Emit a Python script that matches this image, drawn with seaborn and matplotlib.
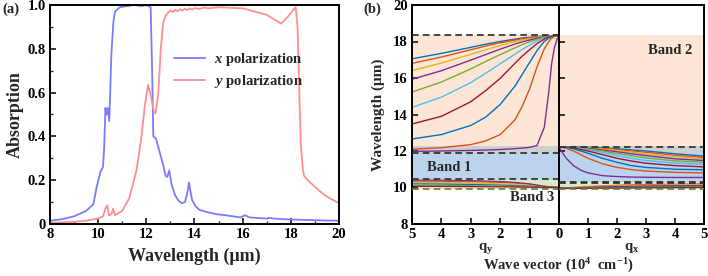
import numpy as np
import pandas as pd
import matplotlib
matplotlib.use("Agg")
import matplotlib.pyplot as plt
import seaborn as sns

sns.set_theme(style="ticks")
plt.rcParams["font.family"] = ["Liberation Serif", "DejaVu Serif"]
plt.rcParams["font.weight"] = "bold"
plt.rcParams["axes.labelweight"] = "bold"
plt.rcParams["mathtext.fontset"] = "custom"
plt.rcParams["mathtext.it"] = "Liberation Serif:italic:bold"
plt.rcParams["mathtext.rm"] = "Liberation Serif:bold"
plt.rcParams["mathtext.bf"] = "Liberation Serif:bold"
plt.rcParams["mathtext.default"] = "regular"

# ---------------- panel (a) data ----------------
wl_x = [8.0, 8.5, 9.0, 9.5, 9.8, 9.94, 10.1, 10.2, 10.25, 10.3, 10.35, 10.4, 10.46, 10.5, 10.55,
        10.63, 10.7, 10.9, 11.2, 11.5, 11.8, 12.0, 12.1, 12.18, 12.24, 12.29, 12.4, 12.5, 12.6,
        12.7, 12.8, 12.87, 12.95, 13.05, 13.2, 13.35, 13.47, 13.6, 13.7, 13.77, 13.83, 13.9,
        14.05, 14.2, 14.5, 14.9, 15.3, 15.6, 15.9, 16.1, 16.3, 16.7, 17.0, 17.1, 17.3, 17.7,
        18.2, 18.8, 19.4, 20.0]
abs_x = [0.015, 0.022, 0.035, 0.06, 0.09, 0.17, 0.24, 0.26, 0.35, 0.53, 0.5, 0.53, 0.47, 0.6, 0.78,
         0.92, 0.97, 0.99, 0.995, 1.0, 0.995, 1.0, 0.995, 0.99, 0.7, 0.4, 0.39, 0.35, 0.31,
         0.27, 0.22, 0.215, 0.245, 0.18, 0.13, 0.105, 0.095, 0.1, 0.14, 0.19, 0.15, 0.11,
         0.08, 0.065, 0.055, 0.045, 0.04, 0.035, 0.03, 0.04, 0.03, 0.027, 0.025, 0.028, 0.025, 0.022,
         0.02, 0.018, 0.016, 0.015]

wl_y = [8.0, 9.0, 9.5, 10.0, 10.2, 10.3, 10.38, 10.45, 10.55, 10.62, 10.7, 11.0, 11.3, 11.6,
        11.8, 11.95, 12.07, 12.2, 12.3, 12.38, 12.5, 12.6, 12.7, 12.8, 12.9, 13.0, 13.1, 13.2,
        13.3, 13.4, 13.5, 13.6, 13.7, 13.8, 13.9, 14.0, 14.2, 14.4, 14.6, 15.0, 15.5, 16.0,
        16.5, 17.0, 17.3, 17.6, 17.9, 18.2, 18.28, 18.35, 18.42, 18.5, 18.55, 18.7, 18.9, 19.2,
        19.5, 20.0]
abs_y = [0.005, 0.01, 0.015, 0.025, 0.035, 0.07, 0.085, 0.04, 0.045, 0.07, 0.04, 0.06, 0.12, 0.25,
         0.4, 0.55, 0.635, 0.58, 0.52, 0.505, 0.6, 0.8, 0.92, 0.95, 0.965, 0.975, 0.968, 0.978,
         0.972, 0.98, 0.975, 0.983, 0.977, 0.985, 0.979, 0.986, 0.982, 0.988, 0.985, 0.99, 0.987, 0.985,
         0.97, 0.955, 0.935, 0.915, 0.95, 0.99, 0.9, 0.6, 0.35, 0.25, 0.22, 0.2, 0.18, 0.15,
         0.125, 0.095]
pol_labels = ["$\\mathit{x}$ polarization", "$\\mathit{y}$ polarization"]
pol_colors = ["#7b7bff", "#ff8f8f"]

# ---------------- panel (b) data ----------------
mode_names = ["m1", "m2", "m3", "m4", "m5", "m6", "m7", "m8", "m9", "m10"]
mode_colors = ["#0072BD", "#D95319", "#EDB120", "#7E2F8E", "#77AC30", "#4DBEEE",
               "#A2142F", "#0072BD", "#D95319", "#7E2F8E"]

qy = [5, 4, 3, 2.5, 2, 1.5, 1.25, 1.0, 0.75, 0.5, 0.35, 0.25, 0.15, 0.05, 0]
band2_qy = [
    [17.05, 17.35, 17.68, 17.85, 18.0, 18.13, 18.19, 18.23, 18.27, 18.3, 18.31, 18.32, 18.33, 18.33, 18.33],
    [16.8, 17.15, 17.55, 17.75, 17.93, 18.08, 18.15, 18.2, 18.25, 18.29, 18.31, 18.32, 18.33, 18.33, 18.33],
    [16.4, 16.82, 17.3, 17.55, 17.78, 17.99, 18.08, 18.15, 18.22, 18.28, 18.3, 18.32, 18.33, 18.33, 18.33],
    [15.93, 16.4, 16.98, 17.28, 17.58, 17.86, 17.98, 18.08, 18.18, 18.26, 18.29, 18.31, 18.33, 18.33, 18.33],
    [15.23, 15.78, 16.5, 16.9, 17.28, 17.65, 17.83, 17.98, 18.12, 18.23, 18.28, 18.3, 18.32, 18.33, 18.33],
    [14.39, 14.95, 15.75, 16.25, 16.78, 17.3, 17.57, 17.8, 18.02, 18.2, 18.26, 18.3, 18.32, 18.33, 18.33],
    [13.48, 13.9, 14.7, 15.3, 15.98, 16.8, 17.2, 17.55, 17.88, 18.13, 18.24, 18.28, 18.31, 18.33, 18.33],
    [12.66, 12.9, 13.4, 13.85, 14.55, 15.55, 16.2, 16.85, 17.5, 18.0, 18.18, 18.26, 18.3, 18.33, 18.33],
    [12.1, 12.18, 12.35, 12.55, 12.9, 13.7, 14.45, 15.4, 16.6, 17.6, 18.0, 18.18, 18.28, 18.33, 18.33],
    [11.98, 12.0, 12.03, 12.05, 12.08, 12.13, 12.16, 12.2, 12.3, 13.3, 15.2, 16.8, 17.7, 18.2, 18.33],
]

qx = [0, 0.1, 0.25, 0.5, 0.75, 1, 1.5, 2, 2.5, 3, 4, 5]
band1_qx = [
    [12.22, 12.22, 12.22, 12.22, 12.21, 12.2, 12.17, 12.12, 12.06, 12.0, 11.85, 11.72],
    [12.22, 12.22, 12.22, 12.21, 12.2, 12.18, 12.14, 12.08, 12.0, 11.93, 11.77, 11.65],
    [12.22, 12.22, 12.22, 12.21, 12.19, 12.17, 12.11, 12.03, 11.94, 11.85, 11.68, 11.57],
    [12.22, 12.22, 12.21, 12.2, 12.18, 12.14, 12.06, 11.96, 11.85, 11.75, 11.57, 11.48],
    [12.22, 12.22, 12.21, 12.19, 12.16, 12.11, 12.0, 11.87, 11.74, 11.62, 11.46, 11.38],
    [12.22, 12.22, 12.21, 12.18, 12.13, 12.07, 11.92, 11.75, 11.6, 11.48, 11.34, 11.27],
    [12.22, 12.22, 12.21, 12.16, 12.08, 12.0, 11.8, 11.6, 11.45, 11.33, 11.2, 11.13],
    [12.22, 12.21, 12.2, 12.12, 12.0, 11.88, 11.6, 11.38, 11.2, 11.1, 11.0, 10.97],
    [12.22, 12.2, 12.15, 12.0, 11.8, 11.6, 11.3, 11.1, 10.98, 10.9, 10.83, 10.8],
    [12.22, 11.95, 11.6, 11.2, 10.95, 10.8, 10.65, 10.6, 10.57, 10.56, 10.55, 10.55],
]

b3_names = ["b1", "b2", "b3", "b4", "b5", "b6"]
b3_colors = ["#D95319", "#EDB120", "#7E2F8E", "#0072BD", "#77AC30", "#A2142F"]
qy3 = [5, 4, 3, 2, 1.5, 1, 0.5, 0.25, 0]
band3_qy = [
    [10.35, 10.34, 10.32, 10.28, 10.24, 10.18, 10.08, 10.03, 10.0],
    [10.28, 10.27, 10.25, 10.2, 10.16, 10.12, 10.05, 10.02, 10.0],
    [10.4, 10.4, 10.38, 10.33, 10.28, 10.2, 10.06, 10.02, 10.0],
    [10.2, 10.19, 10.17, 10.13, 10.1, 10.07, 10.03, 10.01, 10.0],
    [10.12, 10.11, 10.1, 10.08, 10.06, 10.04, 10.02, 10.0, 10.0],
    [10.06, 10.06, 10.05, 10.04, 10.03, 10.02, 10.01, 10.0, 10.0],
]
qx3 = [0, 0.5, 1, 2, 3, 4, 5]
band3_qx = [
    [9.95, 10.0, 10.05, 10.12, 10.16, 10.18, 10.2],
    [9.95, 9.99, 10.03, 10.08, 10.12, 10.14, 10.15],
    [9.95, 9.98, 10.01, 10.05, 10.08, 10.1, 10.11],
    [9.95, 9.97, 9.99, 10.02, 10.04, 10.06, 10.07],
    [9.95, 9.96, 9.97, 9.99, 10.01, 10.02, 10.03],
    [9.95, 9.95, 9.96, 9.97, 9.98, 9.99, 10.0],
]

band2_span = [12.25, 18.33]
gray_span = [11.9, 12.25]
band1_left = [10.47, 11.9]
band1_right = [10.32, 11.9]
band3_left = [9.9, 10.47]
band3_right = [9.92, 10.32]
dash_left = [18.33, 11.9, 10.47]
dash_right = [12.23, 10.32, 10.22]
dash_bottom_left = 9.9
dash_bottom_right = 9.93

# ---------------- figure ----------------
fig = plt.figure(figsize=(7.08, 2.76), dpi=100)
H = 276.0
W = 708.0
bot = (H - 224) / H
hgt = (224 - 5) / H
axA = fig.add_axes([50 / W, bot, 289 / W, hgt])
axL = fig.add_axes([412 / W, bot, 147 / W, hgt])
axR = fig.add_axes([559 / W, bot, 145 / W, hgt])

tick_fs = 10.5

# ---- panel (a)
df_a = pd.concat([
    pd.DataFrame({"wl": wl_x, "A": abs_x, "pol": pol_labels[0]}),
    pd.DataFrame({"wl": wl_y, "A": abs_y, "pol": pol_labels[1]}),
])
sns.lineplot(data=df_a, x="wl", y="A", hue="pol", palette=pol_colors, ax=axA,
             estimator=None, sort=False, linewidth=1.3)
axA.set_xlim(8, 20)
axA.set_ylim(0, 1.0)
axA.set_xticks([8, 10, 12, 14, 16, 18, 20])
axA.set_xticks(np.arange(9, 20, 2), minor=True)
axA.set_yticks([0, 0.2, 0.4, 0.6, 0.8, 1.0])
axA.set_yticklabels(["0", "0.2", "0.4", "0.6", "0.8", "1.0"])
axA.set_yticks(np.arange(0.1, 1.0, 0.2), minor=True)
axA.set_xlabel("Wavelength (μm)", fontsize=13, fontweight="bold", labelpad=5)
axA.set_ylabel("Absorption", fontsize=13, fontweight="bold", labelpad=3)
h, l = axA.get_legend_handles_labels()
axA.legend(h, l, loc="upper left", bbox_to_anchor=(0.43, 0.79), frameon=False,
           handlelength=2.1, handletextpad=0.6, labelspacing=0.35,
           borderpad=0, borderaxespad=0, prop={"weight": "bold", "size": 10.5})

# ---- panel (b)
for ax in (axL, axR):
    ax.axhspan(band2_span[0], band2_span[1], color="#fde6d6", lw=0, zorder=0)
    ax.axhspan(gray_span[0], gray_span[1], color="#cfcfd2", lw=0, zorder=0)
axL.axhspan(band1_left[0], band1_left[1], color="#bcd3ee", lw=0, zorder=0)
axR.axhspan(band1_right[0], band1_right[1], color="#bcd3ee", lw=0, zorder=0)
axL.axhspan(band3_left[0], band3_left[1], color="#d8e8c8", lw=0, zorder=0)
axR.axhspan(band3_right[0], band3_right[1], color="#d8e8c8", lw=0, zorder=0)

df_l = pd.concat([pd.DataFrame({"q": qy, "wl": v, "mode": n})
                  for n, v in zip(mode_names, band2_qy)])
df_r = pd.concat([pd.DataFrame({"q": qx, "wl": v, "mode": n})
                  for n, v in zip(mode_names, band1_qx)])
df_l3 = pd.concat([pd.DataFrame({"q": qy3, "wl": v, "mode": n})
                   for n, v in zip(b3_names, band3_qy)])
df_r3 = pd.concat([pd.DataFrame({"q": qx3, "wl": v, "mode": n})
                   for n, v in zip(b3_names, band3_qx)])
pal = dict(zip(mode_names, mode_colors))
pal3 = dict(zip(b3_names, b3_colors))
sns.lineplot(data=df_l, x="q", y="wl", hue="mode", palette=pal, ax=axL, legend=False,
             estimator=None, linewidth=1.0)
sns.lineplot(data=df_r, x="q", y="wl", hue="mode", palette=pal, ax=axR, legend=False,
             estimator=None, linewidth=1.0)
sns.lineplot(data=df_l3, x="q", y="wl", hue="mode", palette=pal3, ax=axL, legend=False,
             estimator=None, linewidth=0.9)
sns.lineplot(data=df_r3, x="q", y="wl", hue="mode", palette=pal3, ax=axR, legend=False,
             estimator=None, linewidth=0.9)

for y in dash_left:
    axL.axhline(y, color="#2a2a2a", ls=(0, (4, 2.5)), lw=1.2, zorder=3)
for y in dash_right:
    axR.axhline(y, color="#2a2a2a", ls=(0, (4, 2.5)), lw=1.2, zorder=3)
axL.axhline(dash_bottom_left, color="#6b7a3a", ls=(0, (4, 2.5)), lw=1.2, zorder=3)
axR.axhline(dash_bottom_right, color="#6b7a3a", ls=(0, (4, 2.5)), lw=1.2, zorder=3)

axL.set_xlim(5, 0)
axR.set_xlim(0, 5)
for ax in (axL, axR):
    ax.set_ylim(8, 20)
    ax.set_yticks([8, 10, 12, 14, 16, 18, 20])
axL.set_xticks([5, 4, 3, 2, 1])
axR.set_xticks([0, 1, 2, 3, 4, 5])
axR.set_yticklabels([])
axR.set_ylabel("")
axL.spines["right"].set_visible(False)
axL.set_xlabel("q$_\\mathregular{y}$", fontsize=10.5, fontweight="bold", labelpad=0)
axR.set_xlabel("q$_\\mathregular{x}$", fontsize=10.5, fontweight="bold", labelpad=0)
axL.set_ylabel("Wavelength (μm)", fontsize=11, fontweight="bold", labelpad=6)
fig.text(558 / W, 1 - 266 / H, "Wave vector (10$^\\mathregular{4}$  cm$^\\mathregular{-1}$)",
         ha="center", va="center", fontsize=10.5, fontweight="bold")

axR.text(4.6, 17.5, "Band 2", ha="right", va="center", fontsize=10.5, fontweight="bold")
axL.text(4.5, 11.07, "Band 1", ha="left", va="center", fontsize=10.5, fontweight="bold")
axL.text(1.65, 9.45, "Band 3", ha="left", va="center", fontsize=10.5, fontweight="bold")

# ---- common styling
for ax in (axA, axL, axR):
    for s in ax.spines.values():
        s.set_linewidth(1.4)
        s.set_color("black")
    ax.tick_params(which="major", direction="in", length=4, width=1.1, labelsize=tick_fs,
                   pad=3, colors="black")
    ax.tick_params(which="minor", direction="in", length=2.5, width=1.0)
    for lab in ax.get_xticklabels() + ax.get_yticklabels():
        lab.set_fontweight("bold")
    ax.tick_params(which="both", top=False, right=False)

fig.text(2 / W, 1 - 9 / H, "(a)", fontsize=10.5, fontweight="bold", va="center", ha="left")
fig.text(363 / W, 1 - 9 / H, "(b)", fontsize=10.5, fontweight="bold", va="center", ha="left")

fig.savefig("out.png", dpi=100)
